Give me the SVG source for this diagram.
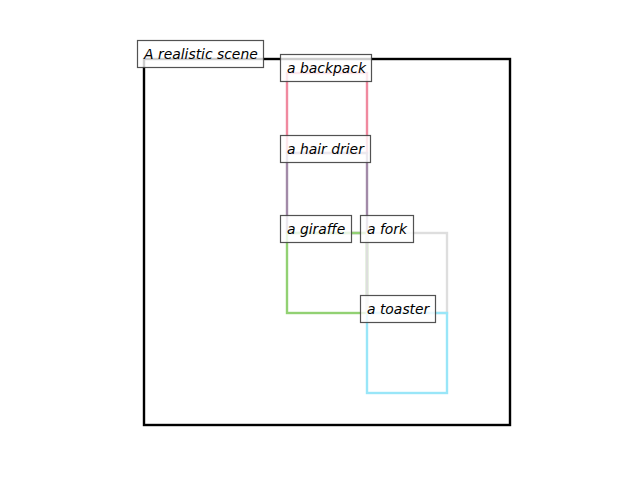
<svg xmlns="http://www.w3.org/2000/svg" width="640" height="480" viewBox="0 0 640 480">
<style>
.lbl rect{fill:#ffffff;fill-opacity:0.8;stroke:#3f3f3f;stroke-opacity:0.9;stroke-width:1.2}
.lbl text{font-family:"DejaVu Sans",sans-serif;font-style:italic;font-size:13.9px;fill:#000}
.box{fill:none;stroke-width:2.4}
</style>
<rect x="0" y="0" width="640" height="480" fill="#ffffff"/>
<g id="connectors">
<rect class="box" x="144" y="59" width="366" height="366" stroke="#000000" stroke-width="2"/>
<rect class="box" x="287" y="73" width="80" height="80" stroke="#f0899f"/>
<rect class="box" x="287" y="153" width="80" height="80" stroke="#a28aa8"/>
<rect class="box" x="287" y="233" width="80" height="80" stroke="#92d173"/>
<rect class="box" x="367" y="233" width="80" height="80" stroke="#dedede"/>
<rect class="box" x="367" y="313" width="80" height="80" stroke="#99e6f8"/>
</g>
<g id="scene" class="lbl"><rect x="137.5" y="40.5" width="126" height="27"/><text x="144" y="59">A realistic scene</text></g>
<g id="backpack" class="lbl"><rect x="280.5" y="54.5" width="91" height="27"/><text x="287" y="73">a backpack</text></g>
<g id="hairdrier" class="lbl"><rect x="280.5" y="135.5" width="90" height="27"/><text x="287" y="154">a hair drier</text></g>
<g id="giraffe" class="lbl"><rect x="280.5" y="215.5" width="71" height="27"/><text x="287" y="234">a giraffe</text></g>
<g id="fork" class="lbl"><rect x="360.5" y="215.5" width="53" height="27"/><text x="367" y="234">a fork</text></g>
<g id="toaster" class="lbl"><rect x="360.5" y="295.5" width="75" height="27"/><text x="367" y="314">a toaster</text></g>
</svg>
